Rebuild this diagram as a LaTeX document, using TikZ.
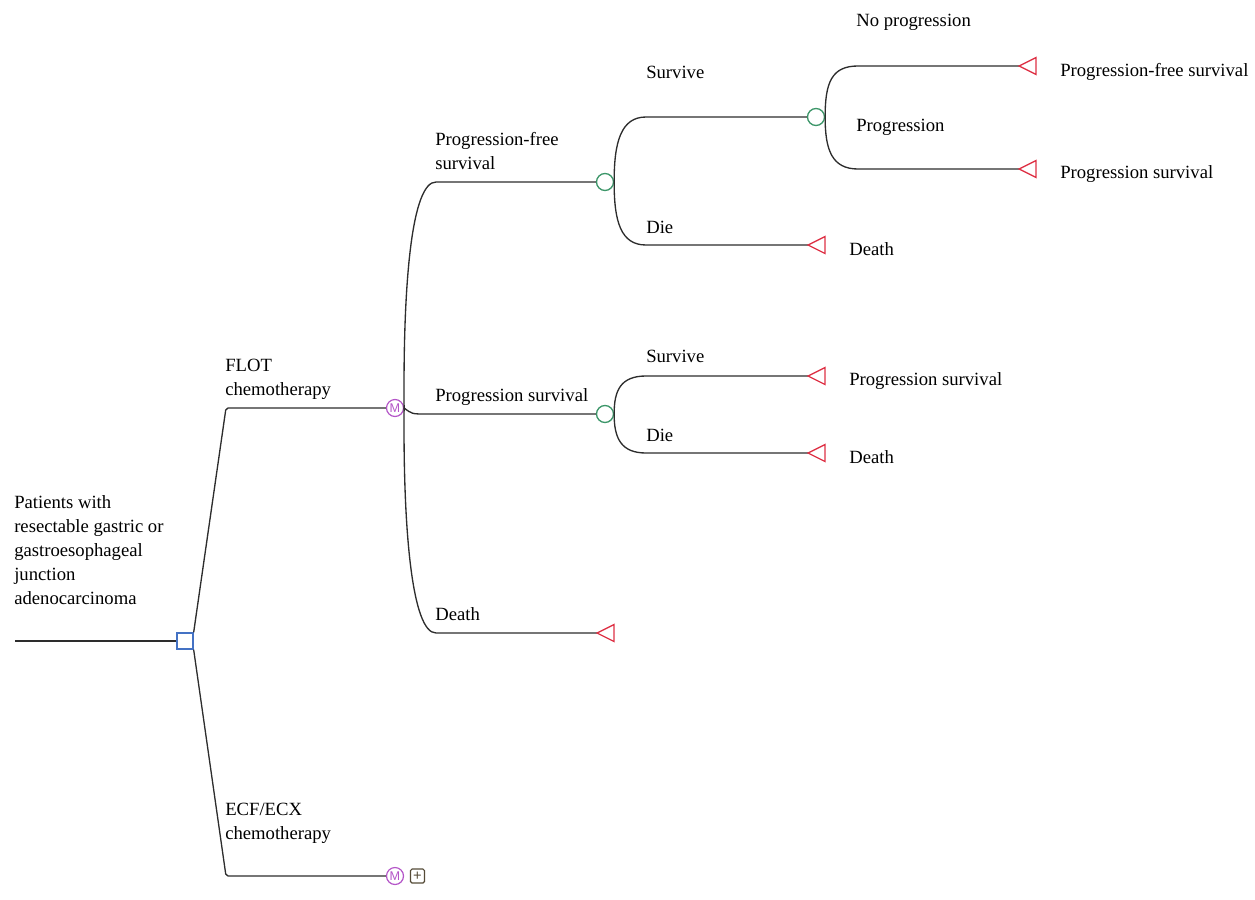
\documentclass[tikz,border=0pt]{standalone}
\usepackage{fontspec}
\setmainfont{Liberation Serif}
\newfontfamily\lserif{Liberation Serif}
\newfontfamily\lsans{Liberation Sans}
\definecolor{decblue}{RGB}{68,114,196}
\definecolor{chgreen}{RGB}{60,150,105}
\definecolor{termred}{RGB}{222,50,70}
\definecolor{mkpurple}{RGB}{180,85,200}
\definecolor{plusol}{RGB}{85,75,55}
\definecolor{linegray}{RGB}{45,45,45}
\newcommand\termtri[2]{\coordinate (#1) at (#2); \draw[termstyle] (#1) -- ++(17,-8.5) -- ++(0,17) -- cycle;}
\begin{document}
\begin{tikzpicture}[x=0.75pt,y=-0.75pt,
  br/.style={draw=linegray, line width=1pt},
  lbl/.style={anchor=base west, inner sep=0pt, font=\lserif\fontsize{14}{18}\selectfont, align=left},
  dec/.style={draw=decblue, line width=1pt, minimum size=12pt, inner sep=0pt, fill=white},
  chance/.style={circle, draw=chgreen, line width=1pt, minimum size=12.75pt, inner sep=0pt, fill=white},
  markov/.style={circle, draw=mkpurple, line width=0.9pt, minimum size=12.75pt, inner sep=0pt, fill=white, text=mkpurple, font=\lsans\fontsize{9.5}{9.5}\selectfont},
  plusbox/.style={draw=plusol, line width=0.9pt, rounded corners=1.2pt, minimum size=10.5pt, inner sep=0pt, text=plusol, font=\lsans\fontsize{11}{11}\selectfont},
  termstyle/.style={draw=termred, line width=1pt, fill=white, line join=miter}
]
\useasboundingbox (0,0) rectangle (1255,899);

% nodes
\coordinate (root) at (15,641);
\node[dec] (D) at (185,641) {};
\node[markov] (M1) at (395,408) {M};
\node[markov] (M2) at (395,876) {M};
\node[plusbox] (P) at (417.5,876) {+};
\node[chance] (C1) at (605,182) {};
\node[chance] (C2) at (816,117) {};
\node[chance] (C3) at (605,414) {};

% branches
\draw[br] (root) -- (D.west);
\draw[br, rounded corners=1.5pt] (D.north east) -- (226,408) -- (M1.west);
\draw[br, rounded corners=1.5pt] (D.south east) -- (226,876) -- (M2.west);

\draw[br] (M1.east) .. controls (403,280) and (412,182) .. (436,182) -- (C1.west);
\draw[br] (M1.east) .. controls (412,414) .. (426,414) -- (C3.west);
\draw[br] (M1.east) .. controls (403,530) and (412,633) .. (436,633) -- (597,633);

\draw[br] (C1.east) .. controls (614,142) and (621,117) .. (646,117) -- (C2.west);
\draw[br] (C1.east) .. controls (614,222) and (621,245) .. (646,245) -- (808,245);
\draw[br] (C2.east) .. controls (825,82) and (832,66) .. (858,66) -- (1019,66);
\draw[br] (C2.east) .. controls (825,150) and (832,169) .. (858,169) -- (1019,169);
\draw[br] (C3.east) .. controls (614,390) and (621,376) .. (646,376) -- (808,376);
\draw[br] (C3.east) .. controls (614,438) and (621,453) .. (646,453) -- (808,453);

% terminals
\termtri{T1}{1019,66}
\termtri{T2}{1019,169}
\termtri{T3}{808,245}
\termtri{T4}{808,376}
\termtri{T5}{808,453}
\termtri{T6}{597,633}

% labels (base = last line)
\node[lbl] (lroot) at (14,604) {Patients with\\resectable gastric or\\gastroesophageal\\junction\\adenocarcinoma};
\node[lbl] (lflot) at (225,395) {FLOT\\chemotherapy};
\node[lbl] (lecf) at (225,839) {ECF/ECX\\chemotherapy};
\node[lbl] (lpfs) at (435,169) {Progression-free\\survival};
\node[lbl] (lps) at (435,401) {Progression survival};
\node[lbl] (ld) at (435,620) {Death};
\node[lbl] (ls1) at (646,79) {Survive};
\node[lbl] (ldie1) at (646,233) {Die};
\node[lbl] (ls2) at (646,362) {Survive};
\node[lbl] (ldie2) at (646,441) {Die};
\node[lbl] (lnp) at (856,27) {No progression};
\node[lbl] (lp) at (856,131) {Progression};
\node[lbl] (t1) at (1060,76) {Progression-free survival};
\node[lbl] (t2) at (1060,178) {Progression survival};
\node[lbl] (t3) at (849,255) {Death};
\node[lbl] (t4) at (849,385) {Progression survival};
\node[lbl] (t5) at (849,463) {Death};
\end{tikzpicture}
\end{document}
